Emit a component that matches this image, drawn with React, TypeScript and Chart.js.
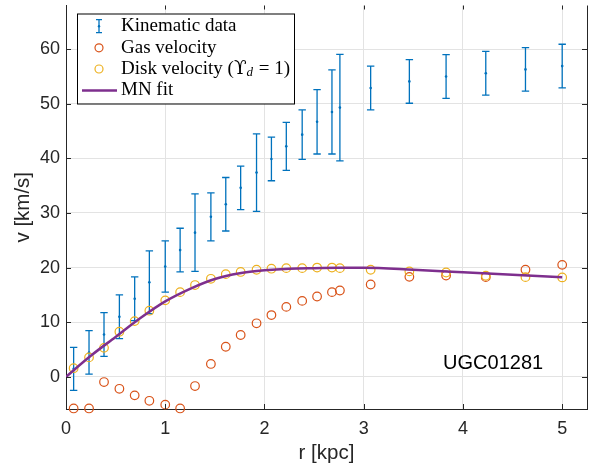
import React, { useEffect, useRef } from 'react';
import { Chart, registerables } from 'chart.js';
Chart.register(...registerables);

// ---- data ----
const radii = [0.077, 0.232, 0.383, 0.538, 0.692, 0.84, 1.0, 1.15, 1.3, 1.46, 1.61, 1.76, 1.92, 2.07, 2.22, 2.38, 2.53, 2.68, 2.76, 3.07, 3.46, 3.83, 4.23, 4.63, 5.0];
const kinVel = [1.45, 4.46, 7.74, 11.0, 14.3, 17.3, 20.2, 23.2, 26.4, 29.3, 31.6, 34.6, 37.4, 39.9, 42.2, 44.35, 46.7, 48.5, 49.3, 52.9, 54.1, 55.0, 55.6, 56.3, 56.9];
const kinErr = [3.95, 3.98, 4.0, 4.0, 4.0, 5.75, 4.7, 4.0, 7.1, 4.4, 4.9, 4.0, 7.1, 4.0, 4.4, 4.55, 5.9, 7.7, 9.75, 4.0, 4.0, 4.0, 4.0, 4.0, 4.0];
const gasVel = [-5.8, -5.8, -0.96, -2.2, -3.4, -4.4, -5.1, -5.8, -1.7, 2.35, 5.5, 7.65, 9.8, 11.3, 12.8, 13.9, 14.7, 15.5, 15.8, 16.9, 18.3, 18.55, 18.25, 19.6, 20.5];
const diskVel = [1.57, 3.55, 5.3, 8.25, 10.2, 12.1, 14.0, 15.5, 16.8, 17.95, 18.8, 19.2, 19.6, 19.8, 19.9, 19.9, 20.0, 20.0, 19.9, 19.6, 19.3, 19.1, 18.5, 18.25, 18.2];
const mnR = [0, 0.25, 0.5, 0.75, 1.0, 1.25, 1.5, 1.75, 2.0, 2.25, 2.5, 2.75, 3.0, 3.5, 4.0, 4.5, 5.0];
const mnV = [0, 3.85, 7.3, 10.75, 13.8, 16.1, 17.9, 18.95, 19.5, 19.8, 19.9, 19.95, 19.95, 19.6, 19.15, 18.7, 18.25];
const xTicks = [0, 1, 2, 3, 4, 5];
const yTicks = [0, 10, 20, 30, 40, 50, 60];
const legendLabels = ['Kinematic data', 'Gas velocity', 'Disk velocity', 'MN fit'];
const galaxyName = 'UGC01281';

const BLUE = '#0072BD';
const RED = '#D95319';
const YELLOW = '#EDB120';
const PURPLE = '#7E2F8E';
const AXIS = '#262626';
const SANS = '"Liberation Sans", Arial, Helvetica, sans-serif';
const SERIF = '"Liberation Serif", "DejaVu Serif", serif';

const decorPlugin = {
  id: 'decor',
  beforeDatasetsDraw(chart: any) {
    const ctx = chart.ctx;
    const xs = chart.scales.x;
    const ys = chart.scales.y;
    ctx.save();
    ctx.strokeStyle = BLUE;
    ctx.lineWidth = 1.3;
    radii.forEach((r, i) => {
      const x = xs.getPixelForValue(r);
      const yt = ys.getPixelForValue(kinVel[i] + kinErr[i]);
      const yb = ys.getPixelForValue(kinVel[i] - kinErr[i]);
      ctx.beginPath();
      ctx.moveTo(x, yt);
      ctx.lineTo(x, yb);
      ctx.moveTo(x - 3.7, yt);
      ctx.lineTo(x + 3.7, yt);
      ctx.moveTo(x - 3.7, yb);
      ctx.lineTo(x + 3.7, yb);
      ctx.stroke();
    });
    ctx.restore();
  },
  afterDraw(chart: any) {
    const ctx = chart.ctx;
    const a = chart.chartArea;
    const xs = chart.scales.x;
    const ys = chart.scales.y;
    ctx.save();
    // right border + inward ticks
    ctx.strokeStyle = AXIS;
    ctx.lineWidth = 1;
    ctx.beginPath();
    ctx.moveTo(a.right + 0.5, a.top);
    ctx.lineTo(a.right + 0.5, a.bottom + 0.5);
    yTicks.forEach((v) => {
      const y = Math.round(ys.getPixelForValue(v)) + 0.5;
      ctx.moveTo(a.left, y);
      ctx.lineTo(a.left + 5, y);
      ctx.moveTo(a.right, y);
      ctx.lineTo(a.right - 5, y);
    });
    xTicks.forEach((v) => {
      const x = Math.round(xs.getPixelForValue(v)) + 0.5;
      ctx.moveTo(x, a.bottom);
      ctx.lineTo(x, a.bottom - 5);
      ctx.moveTo(x, a.top);
      ctx.lineTo(x, a.top + 4);
    });
    ctx.stroke();

    // galaxy label
    ctx.fillStyle = '#000';
    ctx.font = `20px ${SANS}`;
    ctx.textBaseline = 'alphabetic';
    ctx.textAlign = 'left';
    ctx.fillText(galaxyName, xs.getPixelForValue(3.8), ys.getPixelForValue(1.5));

    // legend
    const lx = a.left + 11;
    const ly = a.top + 8;
    ctx.fillStyle = '#fff';
    ctx.fillRect(lx, ly, 217, 90);
    ctx.strokeStyle = '#000';
    ctx.lineWidth = 1;
    ctx.strokeRect(lx + 0.5, ly + 0.5, 217, 90);
    const sx = lx + 22;
    const tx = lx + 44;
    const rows = [ly + 12.7, ly + 34.3, ly + 55.5, ly + 77];
    // error bar icon
    ctx.strokeStyle = BLUE;
    ctx.lineWidth = 1.3;
    ctx.beginPath();
    ctx.moveTo(sx, rows[0] - 6.5);
    ctx.lineTo(sx, rows[0] + 6.5);
    ctx.moveTo(sx - 3, rows[0] - 6.5);
    ctx.lineTo(sx + 3, rows[0] - 6.5);
    ctx.moveTo(sx - 3, rows[0] + 6.5);
    ctx.lineTo(sx + 3, rows[0] + 6.5);
    ctx.stroke();
    ctx.fillStyle = BLUE;
    ctx.beginPath();
    ctx.arc(sx, rows[0], 1.2, 0, Math.PI * 2);
    ctx.fill();
    // circles
    ctx.lineWidth = 1.2;
    ctx.strokeStyle = RED;
    ctx.beginPath();
    ctx.arc(sx, rows[1], 4, 0, Math.PI * 2);
    ctx.stroke();
    ctx.strokeStyle = YELLOW;
    ctx.beginPath();
    ctx.arc(sx, rows[2], 4, 0, Math.PI * 2);
    ctx.stroke();
    // line
    ctx.strokeStyle = PURPLE;
    ctx.lineWidth = 2.5;
    ctx.beginPath();
    ctx.moveTo(lx + 5, rows[3]);
    ctx.lineTo(lx + 40, rows[3]);
    ctx.stroke();
    // texts
    ctx.fillStyle = '#000';
    ctx.textBaseline = 'middle';
    const fnt = `19px ${SERIF}`;
    ctx.font = fnt;
    ctx.fillText(legendLabels[0], tx, rows[0]);
    ctx.fillText(legendLabels[1], tx, rows[1]);
    ctx.fillText(legendLabels[3], tx, rows[3]);
    // Disk velocity (Υ_d = 1)
    let cx = tx;
    const p1 = legendLabels[2] + ' (';
    ctx.fillText(p1, cx, rows[2]);
    cx += ctx.measureText(p1).width;
    ctx.font = `18.5px "DejaVu Serif", ${SERIF}`;
    ctx.fillText('\u03D2', cx, rows[2]);
    cx += ctx.measureText('\u03D2').width;
    ctx.font = `italic 13px ${SERIF}`;
    ctx.fillText('d', cx, rows[2] + 4);
    cx += ctx.measureText('d').width;
    ctx.font = fnt;
    const p3 = ' = 1)';
    ctx.fillText(p3, cx + 1, rows[2]);
    ctx.restore();
  },
};

export default function App() {
  const ref = useRef<HTMLCanvasElement | null>(null);
  useEffect(() => {
    if (!ref.current) return;
    const chart = new Chart(ref.current, {
      type: 'scatter',
      data: {
        datasets: [
          {
            type: 'line',
            label: 'MN fit',
            data: mnR.map((r, i) => ({ x: r, y: mnV[i] })),
            borderColor: PURPLE,
            borderWidth: 2.5,
            pointRadius: 0,
            cubicInterpolationMode: 'monotone',
            fill: false,
            order: 0,
          } as any,
          {
            label: 'Disk velocity',
            data: radii.map((r, i) => ({ x: r, y: diskVel[i] })),
            pointStyle: 'circle',
            pointRadius: 4.3,
            borderColor: YELLOW,
            backgroundColor: 'rgba(0,0,0,0)',
            borderWidth: 1.2,
            clip: false,
            order: 1,
          } as any,
          {
            label: 'Gas velocity',
            data: radii.map((r, i) => ({ x: r, y: gasVel[i] })),
            pointStyle: 'circle',
            pointRadius: 4.3,
            borderColor: RED,
            backgroundColor: 'rgba(0,0,0,0)',
            borderWidth: 1.2,
            clip: false,
            order: 2,
          } as any,
          {
            label: 'Kinematic data',
            data: radii.map((r, i) => ({ x: r, y: kinVel[i] })),
            pointStyle: 'circle',
            pointRadius: 1.3,
            backgroundColor: BLUE,
            borderWidth: 0,
            order: 3,
          } as any,
        ],
      },
      options: {
        animation: false,
        responsive: false,
        devicePixelRatio: 1,
        layout: { padding: { left: 0, right: 19, top: 0, bottom: 0 } },
        plugins: { legend: { display: false }, tooltip: { enabled: false } },
        scales: {
          x: {
            type: 'linear',
            min: 0,
            max: 5.25,
            afterBuildTicks: (s: any) => {
              s.ticks = xTicks.map((v) => ({ value: v }));
            },
            afterFit: (s: any) => {
              s.height = 62;
              s.paddingLeft = 0;
              s.paddingRight = 0;
            },
            grid: { color: '#e3e3e3', lineWidth: 1, drawTicks: false },
            border: { display: true, color: AXIS, width: 1 },
            ticks: { color: AXIS, font: { family: SANS, size: 18 }, padding: 9, maxRotation: 0 },
            title: { display: true, text: 'r [kpc]', color: AXIS, font: { family: SANS, size: 20.5 }, padding: { top: 0, bottom: 5 } },
          },
          y: {
            type: 'linear',
            min: -5.9,
            max: 68,
            afterBuildTicks: (s: any) => {
              s.ticks = yTicks.map((v) => ({ value: v }));
            },
            afterFit: (s: any) => {
              s.width = 66;
              s.paddingTop = 0;
              s.paddingBottom = 0;
            },
            grid: { color: '#e3e3e3', lineWidth: 1, drawTicks: false },
            border: { display: true, color: AXIS, width: 1 },
            ticks: { color: AXIS, font: { family: SANS, size: 18 }, padding: 6 },
            title: { display: true, text: 'v [km/s]', color: AXIS, font: { family: SANS, size: 20.5 }, padding: { top: 11, bottom: 0 } },
          },
        },
      },
      plugins: [decorPlugin],
    });
    return () => chart.destroy();
  }, []);
  return (
    <div style={{ position: 'absolute', left: 0, top: 0, width: 606, height: 471, background: '#fff' }}>
      <canvas ref={ref} width={606} height={471} style={{ display: 'block' }} />
    </div>
  );
}
